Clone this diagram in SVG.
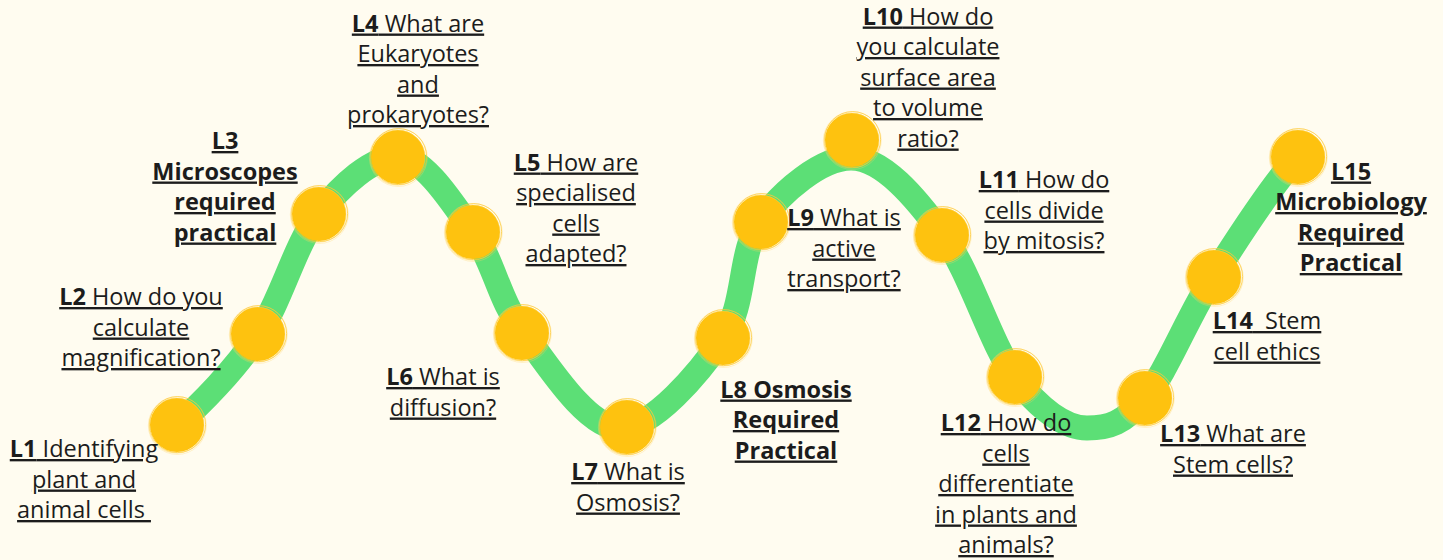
<svg xmlns="http://www.w3.org/2000/svg" xmlns:xlink="http://www.w3.org/1999/xlink" width="1443" height="560" viewBox="0 0 1443 560">
<style>
  text { font-family: "Open Sans", "Noto Sans", "Liberation Sans", sans-serif; font-size: 23.5px; fill: #1c1c1c; text-anchor: middle; text-decoration: underline; white-space: pre; }
  .b { font-weight: bold; }
  .wave { fill: none; stroke: #5cdf76; stroke-width: 25; stroke-linecap: round; stroke-linejoin: round; }
</style>
<defs>
  <g id="dot">
    <circle r="27" fill="#fec20f"/>
    <circle r="28" fill="none" stroke="#fec424" stroke-width="1" opacity="0.7" cx="0.6" cy="-0.4"/>
    <circle r="27.5" fill="none" stroke="#ffd04a" stroke-width="0.8" opacity="0.6" cx="-0.5" cy="0.6"/>
    <circle r="29" fill="none" stroke="#ffd563" stroke-width="0.6" opacity="0.5" cx="0.3" cy="0.5"/>
  </g>
</defs>
<rect width="1443" height="560" fill="#fffcf0"/>
<g id="connectors">
  <path class="wave" d="M177,425 C200.3,405 234.5,370 258,335 C281.5,300 294.7,245 318,215 C341.3,185 372.2,157 398,157 C423.8,157 452.2,202.5 473,232 C493.8,261.5 498.5,299.3 523,332 C547.5,364.7 586.7,428 620,428 C653.3,428 699.7,372.3 723,338 C746.3,303.7 738.5,252.8 760,222 C781.5,191.2 821.5,158 851,158 C882.5,158 915.8,197.7 943,235 C970.2,272.3 991,344.8 1015,377 C1039,409.2 1065.3,428 1087,428 C1108.7,428 1124,423.2 1145,398 C1166,372.8 1187.5,317.2 1213,277 C1238.5,236.8 1278,177 1298,157"/>
</g>
<g id="L1"><use xlink:href="#dot" x="177" y="425"/>
  <text x="84" y="457"><tspan class="b">L1</tspan> Identifying</text>
  <text x="84" y="487.5">plant and</text>
  <text x="84" y="518">animal cells </text>
</g>
<g id="L2"><use xlink:href="#dot" x="258" y="334"/>
  <text x="141" y="305"><tspan class="b">L2</tspan> How do you</text>
  <text x="141" y="335.5">calculate</text>
  <text x="141" y="366">magnification?</text>
</g>
<g id="L3"><use xlink:href="#dot" x="319" y="214"/>
  <text class="b" x="225" y="149">L3</text>
  <text class="b" x="225" y="179.5">Microscopes</text>
  <text class="b" x="225" y="210">required</text>
  <text class="b" x="225" y="240.5">practical</text>
</g>
<g id="L4"><use xlink:href="#dot" x="398" y="157"/>
  <text x="418" y="31.5"><tspan class="b">L4</tspan> What are</text>
  <text x="418" y="62">Eukaryotes</text>
  <text x="418" y="92.5">and</text>
  <text x="418" y="123">prokaryotes?</text>
</g>
<g id="L5"><use xlink:href="#dot" x="473" y="232"/>
  <text x="576" y="170.5"><tspan class="b">L5</tspan> How are</text>
  <text x="576" y="201">specialised</text>
  <text x="576" y="231.5">cells</text>
  <text x="576" y="262">adapted?</text>
</g>
<g id="L6"><use xlink:href="#dot" x="522" y="333"/>
  <text x="443" y="385"><tspan class="b">L6</tspan> What is</text>
  <text x="443" y="415.5">diffusion?</text>
</g>
<g id="L7"><use xlink:href="#dot" x="627" y="427"/>
  <text x="628" y="480"><tspan class="b">L7</tspan> What is</text>
  <text x="628" y="510.5">Osmosis?</text>
</g>
<g id="L8"><use xlink:href="#dot" x="723" y="338"/>
  <text class="b" x="786" y="397.5">L8 Osmosis</text>
  <text class="b" x="786" y="428">Required</text>
  <text class="b" x="786" y="458.5">Practical</text>
</g>
<g id="L9"><use xlink:href="#dot" x="761" y="222"/>
  <text x="844" y="226"><tspan class="b">L9</tspan> What is</text>
  <text x="844" y="256.5">active</text>
  <text x="844" y="287">transport?</text>
</g>
<g id="L10"><use xlink:href="#dot" x="852" y="140"/>
  <text x="928" y="24.5"><tspan class="b">L10</tspan> How do</text>
  <text x="928" y="55">you calculate</text>
  <text x="928" y="85.5">surface area</text>
  <text x="928" y="116">to volume</text>
  <text x="928" y="146.5">ratio?</text>
</g>
<g id="L11"><use xlink:href="#dot" x="942" y="235"/>
  <text x="1044" y="188"><tspan class="b">L11</tspan> How do</text>
  <text x="1044" y="218.5">cells divide</text>
  <text x="1044" y="249">by mitosis?</text>
</g>
<g id="L12"><use xlink:href="#dot" x="1015" y="377"/>
  <text x="1006" y="431"><tspan class="b">L12</tspan> How do</text>
  <text x="1006" y="461.5">cells</text>
  <text x="1006" y="492">differentiate</text>
  <text x="1006" y="522.5">in plants and</text>
  <text x="1006" y="553">animals?</text>
</g>
<g id="L13"><use xlink:href="#dot" x="1145" y="398"/>
  <text x="1233" y="442"><tspan class="b">L13</tspan> What are</text>
  <text x="1233" y="472.5">Stem cells?</text>
</g>
<g id="L14"><use xlink:href="#dot" x="1214" y="277"/>
  <text x="1267" y="329"><tspan class="b">L14</tspan>  Stem</text>
  <text x="1267" y="359.5">cell ethics</text>
</g>
<g id="L15"><use xlink:href="#dot" x="1298" y="157"/>
  <text class="b" x="1351" y="179.5">L15</text>
  <text class="b" x="1351" y="210">Microbiology</text>
  <text class="b" x="1351" y="240.5">Required</text>
  <text class="b" x="1351" y="271">Practical</text>
</g>
</svg>
